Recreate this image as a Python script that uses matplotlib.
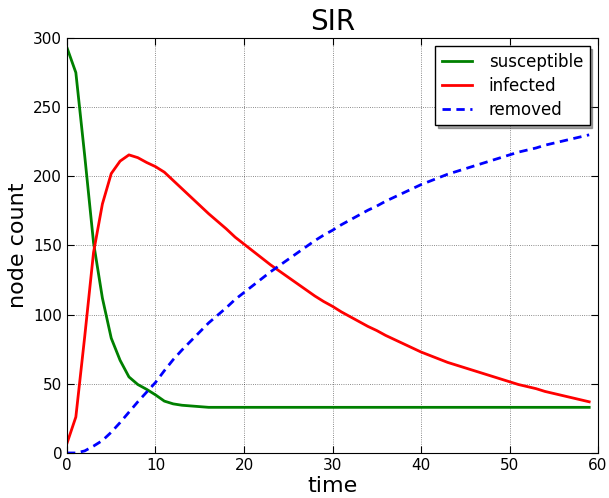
import numpy as np
import matplotlib
matplotlib.use("Agg")
import matplotlib.pyplot as plt

# SIR model values (one value per time step)
time = np.arange(60)
susceptible = [293, 275, 215, 152, 112, 83, 67, 55, 49.5, 46, 42, 37.5, 35.5, 34.5, 34, 33.5,
               33, 33, 33, 33, 33, 33, 33, 33, 33, 33, 33, 33, 33, 33,
               33, 33, 33, 33, 33, 33, 33, 33, 33, 33, 33, 33, 33, 33, 33,
               33, 33, 33, 33, 33, 33, 33, 33, 33, 33, 33, 33, 33, 33, 33]
infected = [7, 26, 84, 145, 180, 202, 211, 215.5, 213.5, 210, 207, 203, 197, 191, 185, 179,
            173, 167.5, 162, 156, 151, 146, 141, 136, 131.5, 127, 122.5, 118, 113.5, 109.5,
            106, 102, 98.5, 95, 91.5, 88.5, 85, 82, 79, 76, 73, 70.5, 68, 65.5, 63.5,
            61.5, 59.5, 57.5, 55.5, 53.5, 51.5, 49.5, 48, 46.5, 44.5, 43, 41.5, 40, 38.5, 37]
removed = [0, 0, 1.5, 5, 9, 15, 22, 29.5, 37, 44, 51, 59.5, 67.5, 74.5, 81, 87.5,
           94, 99.5, 105, 111, 116, 121, 126, 131, 135.5, 140, 144.5, 149, 153.5, 157.5,
           161, 165, 168.5, 172, 175.5, 178.5, 182, 185, 188, 191, 194, 196.5, 199, 201.5, 203.5,
           205.5, 207.5, 209.5, 211.5, 213.5, 215.5, 217.5, 219, 220.5, 222.5, 224, 225.5, 227, 228.5, 230]

plt.rcParams['xtick.direction'] = 'in'
plt.rcParams['ytick.direction'] = 'in'
plt.rcParams['xtick.top'] = True
plt.rcParams['ytick.right'] = True

fig = plt.figure(figsize=(6.09, 4.98), dpi=100)
ax = fig.add_axes([0.110, 0.0904, 0.872, 0.8333])

ax.plot(time, susceptible, color='green', lw=2, label='susceptible')
ax.plot(time, infected, color='red', lw=2, label='infected')
ax.plot(time, removed, color='blue', lw=2, ls=(0, (3, 2)), label='removed')

ax.set_xlim(0, 60)
ax.set_ylim(0, 300)
ax.set_xticks(range(0, 61, 10))
ax.set_yticks(range(0, 301, 50))
ax.tick_params(labelsize=11, length=5)
ax.grid(True, color='black', ls=':', lw=0.6, alpha=0.6)

ax.set_title('SIR', fontsize=20)
ax.set_xlabel('time', fontsize=16, labelpad=2)
ax.set_ylabel('node count', fontsize=16)

leg = ax.legend(loc='upper right', fontsize=12, shadow=True, fancybox=False,
                edgecolor='black', framealpha=1, handlelength=1.8,
                handletextpad=1.0, labelspacing=0.35, borderaxespad=0.5)
leg.get_frame().set_linewidth(1)

fig.savefig('out.png', dpi=100)
